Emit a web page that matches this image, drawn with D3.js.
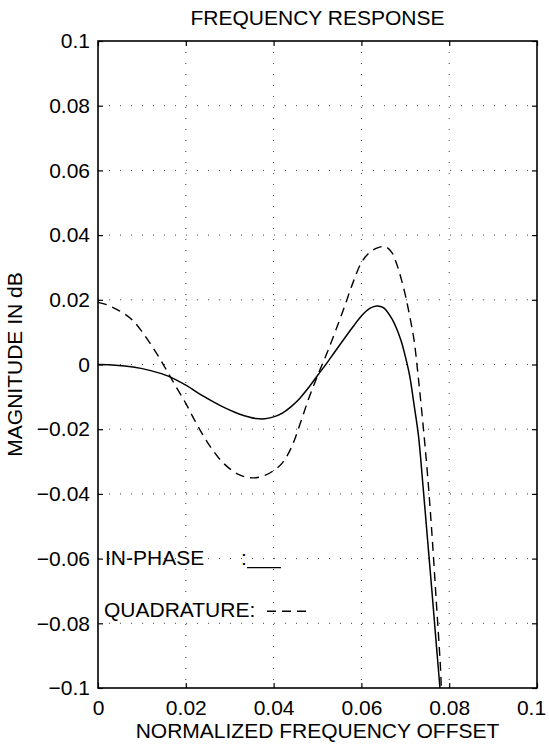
<!DOCTYPE html>
<html>
<head>
<meta charset="utf-8">
<script src="https://cdn.jsdelivr.net/npm/d3@7"></script>
<style>
  body { margin: 0; background: #fff; }
  svg { display: block; }
  text { font-family: "Liberation Sans", Arial, Helvetica, sans-serif; fill: #000; }
</style>
</head>
<body>
<svg id="chart" width="549" height="749"></svg>
<script>
// ---- data ----
const xTicks = [0, 0.02, 0.04, 0.06, 0.08, 0.1];
const xTickLabels = ["0", "0.02", "0.04", "0.06", "0.08", "0.1"];
const yTicks = [0.1, 0.08, 0.06, 0.04, 0.02, 0, -0.02, -0.04, -0.06, -0.08, -0.1];
const yTickLabels = ["0.1", "0.08", "0.06", "0.04", "0.02", "0", "\u22120.02", "\u22120.04", "\u22120.06", "\u22120.08", "\u22120.1"];

const inPhaseX = [0, 0.004, 0.008, 0.012, 0.016, 0.020, 0.024, 0.028, 0.032, 0.036, 0.038, 0.040, 0.042, 0.044, 0.046, 0.048, 0.050, 0.052, 0.054, 0.056, 0.058, 0.060, 0.062, 0.0635, 0.065, 0.067, 0.069, 0.070, 0.071, 0.072, 0.073, 0.074, 0.075, 0.076, 0.077, 0.0779];
const inPhaseY = [0, -0.0002, -0.0008, -0.0019, -0.0036, -0.0064, -0.0098, -0.0128, -0.0152, -0.0167, -0.0168, -0.0162, -0.0150, -0.0130, -0.0104, -0.0071, -0.0034, 0.0002, 0.0040, 0.0078, 0.0115, 0.0150, 0.0174, 0.0181, 0.0176, 0.0140, 0.0075, 0.0025, -0.0035, -0.0125, -0.0220, -0.0370, -0.0530, -0.0690, -0.0855, -0.1];

const quadX = [0, 0.002, 0.004, 0.006, 0.008, 0.010, 0.012, 0.014, 0.016, 0.018, 0.020, 0.022, 0.024, 0.026, 0.028, 0.030, 0.032, 0.034, 0.036, 0.038, 0.040, 0.042, 0.044, 0.046, 0.048, 0.050, 0.052, 0.054, 0.056, 0.058, 0.060, 0.062, 0.064, 0.0655, 0.067, 0.068, 0.069, 0.070, 0.071, 0.072, 0.073, 0.074, 0.075, 0.076, 0.077, 0.078, 0.0782];
const quadY = [0.0192, 0.0185, 0.0172, 0.0157, 0.0135, 0.0102, 0.0063, 0.0020, -0.0027, -0.0074, -0.0120, -0.0172, -0.0220, -0.0262, -0.0297, -0.0322, -0.0340, -0.0349, -0.0350, -0.0343, -0.0328, -0.0304, -0.0258, -0.0185, -0.0105, -0.0035, 0.0030, 0.0100, 0.0173, 0.0250, 0.0315, 0.0348, 0.0362, 0.0364, 0.0345, 0.0312, 0.0268, 0.0215, 0.0150, 0.0075, -0.0045, -0.0180, -0.0330, -0.0510, -0.0720, -0.0935, -0.1];

const titleText = "FREQUENCY RESPONSE";
const xLabelText = "NORMALIZED FREQUENCY OFFSET";
const yLabelText = "MAGNITUDE IN dB";
const legendNames = ["IN-PHASE", "QUADRATURE:"];

// ---- layout ----
const W = 549, H = 749;
const m = { left: 98, right: 12, top: 41, bottom: 61 };
const pw = W - m.left - m.right, ph = H - m.top - m.bottom;
const FS = 21;

const svg = d3.select("#chart");
const g = svg.append("g").attr("transform", `translate(${m.left},${m.top})`);

const x = d3.scaleLinear().domain([0, 0.1]).range([0, pw]);
const y = d3.scaleLinear().domain([-0.1, 0.1]).range([ph, 0]);

// grid (dotted)
g.append("g").selectAll("line").data(xTicks.slice(1, -1)).join("line")
  .attr("x1", d => x(d)).attr("x2", d => x(d)).attr("y1", 0).attr("y2", ph)
  .attr("stroke", "#444").attr("stroke-width", 1).attr("stroke-dasharray", "1,10");
g.append("g").selectAll("line").data(yTicks.slice(1, -1)).join("line")
  .attr("y1", d => y(d)).attr("y2", d => y(d)).attr("x1", 0).attr("x2", pw)
  .attr("stroke", "#444").attr("stroke-width", 1).attr("stroke-dasharray", "1,10");

// axes
const tickLen = 5;
const xAxisB = d3.axisBottom(x).tickValues(xTicks).tickSize(-tickLen).tickPadding(12)
  .tickFormat((d, i) => xTickLabels[i]);
const xAxisT = d3.axisTop(x).tickValues(xTicks).tickSize(-tickLen).tickFormat("");
const yAxisL = d3.axisLeft(y).tickValues(yTicks).tickSize(-tickLen).tickPadding(8)
  .tickFormat((d, i) => yTickLabels[i]);
const yAxisR = d3.axisRight(y).tickValues(yTicks).tickSize(-tickLen).tickFormat("");

function styleAxis(sel) {
  sel.select(".domain").remove();
  sel.selectAll(".tick line").attr("stroke", "#000").attr("stroke-width", 1.2);
  sel.selectAll(".tick text").attr("font-size", FS)
    .attr("font-family", "'Liberation Sans', Arial, sans-serif").attr("fill", "#000");
}
const xb = g.append("g").attr("transform", `translate(0,${ph})`).call(xAxisB).call(styleAxis);
// keep the last x tick label inside the picture
xb.selectAll(".tick text").filter(d => d === 0.1).attr("dx", -6);
g.append("g").call(xAxisT).call(styleAxis);
g.append("g").call(yAxisL).call(styleAxis);
g.append("g").attr("transform", `translate(${pw},0)`).call(yAxisR).call(styleAxis);

// frame
g.append("rect").attr("x", 0).attr("y", 0).attr("width", pw).attr("height", ph)
  .attr("fill", "none").attr("stroke", "#000").attr("stroke-width", 1.6);

// curves
const line = d3.line().x(d => x(d[0])).y(d => y(d[1])).curve(d3.curveCatmullRom.alpha(0.5));
const inPhase = inPhaseX.map((v, i) => [v, inPhaseY[i]]);
const quad = quadX.map((v, i) => [v, quadY[i]]);

g.append("path").datum(inPhase).attr("d", line)
  .attr("fill", "none").attr("stroke", "#000").attr("stroke-width", 1.5);
g.append("path").datum(quad).attr("d", line)
  .attr("fill", "none").attr("stroke", "#000").attr("stroke-width", 1.4)
  .attr("stroke-dasharray", "9,6");

// legend
const lg = g.append("g");
const yIn = y(-0.06), yQ = y(-0.08);
lg.append("text").attr("x", 7).attr("y", yIn + 6).attr("font-size", FS).text(legendNames[0]);
lg.append("text").attr("x", 143).attr("y", yIn + 6).attr("font-size", FS).text(":");
lg.append("line").attr("x1", 149).attr("x2", 183).attr("y1", yIn + 9).attr("y2", yIn + 9)
  .attr("stroke", "#000").attr("stroke-width", 1.4);
lg.append("text").attr("x", 6).attr("y", yQ - 6).attr("font-size", FS).text(legendNames[1]);
lg.append("line").attr("x1", 169).attr("x2", 208).attr("y1", yQ - 12).attr("y2", yQ - 12)
  .attr("stroke", "#000").attr("stroke-width", 1.4).attr("stroke-dasharray", "9,6");

// titles
svg.append("text").attr("x", m.left + pw / 2).attr("y", 25).attr("text-anchor", "middle")
  .attr("font-size", FS).text(titleText);
svg.append("text").attr("x", m.left + pw / 2).attr("y", 738).attr("text-anchor", "middle")
  .attr("font-size", FS).text(xLabelText);
svg.append("text").attr("transform", `translate(22,${m.top + ph / 2}) rotate(-90)`)
  .attr("text-anchor", "middle").attr("font-size", FS).text(yLabelText);
</script>
</body>
</html>
